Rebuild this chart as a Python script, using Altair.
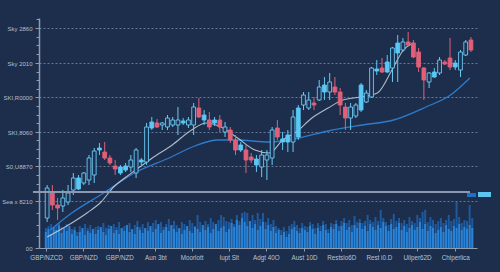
import altair as alt
import pandas as pd
import numpy as np

# ---------------- data ----------------
kinds = ["h","r","r","h","h","h","c","h","h","h",
         "c","r","r","r","c","c","h","h","c","h",
         "c","r","h","h","h","h","c","h","h","r",
         "c","r","c","r","h","r","r","c","r","r",
         "c","h","h","h","r","c","c","h","c","h",
         "h","r","h","c","h","r","r","r","h","h",
         "c","h","h","c","r","c","h","c","h","r",
         "r","r","r","h","c","h","r","r","c","h",
         "h","r"]
opens = [30,55,43,42,46,58,59,65,68,73,
         98,96,90,82,75,78,81,75,86,86,
         120,125,123,121,123,123,125,123,123,140,
         128,128,125,128,116,118,108,98,98,91,
         83,81,88,90,120,106,106,106,111,143,
         140,145,148,156,156,161,156,141,130,132,
         138,146,151,177,180,176,180,195,198,206,
         205,196,180,166,171,175,186,190,181,178,
         193,208]
closes = [60,43,40,50,55,70,70,75,90,97,
          100,90,85,79,81,82,88,98,88,121,
          126,121,125,130,128,128,127,128,141,131,
          133,121,128,121,121,108,98,103,88,88,
          89,93,93,118,111,109,113,131,140,153,
          148,143,161,163,166,156,143,130,141,143,
          163,155,180,179,176,186,200,205,206,203,
          191,181,168,175,176,188,184,181,185,196,
          206,198]
highs = [63,63,50,58,63,75,73,76,93,100,
         105,106,93,88,83,85,93,100,90,125,
         131,129,126,133,131,141,130,131,145,150,
         138,136,131,133,126,121,113,106,103,95,
         93,98,98,121,128,116,118,138,143,156,
         156,151,168,171,175,171,160,145,145,145,
         165,158,181,188,190,193,201,213,210,216,
         208,200,181,176,180,191,188,210,188,198,
         208,211]
lows = [26,38,28,36,43,53,58,63,63,65,
        93,88,83,73,73,76,76,70,83,83,
        118,120,118,118,121,113,123,120,113,130,
        123,118,122,116,111,105,93,96,75,85,
        76,71,68,83,108,98,96,96,108,138,
        138,138,147,148,148,153,133,118,118,130,
        136,145,150,173,175,175,166,166,196,202,
        190,176,148,160,170,173,183,178,178,171,
        192,196]

# moving-average style lines (candle index, level)
white_x = [0,4.7,7.6,10.3,12.7,15.1,17.7,20.1,23.9,27.6,30.4,33.2,36.4,39.7,42.5,45,47.6,50.6,53.7,56.5,59.9,63.1,65.9,68.1,70]
white_y = [11,25,35,46,61,71,81,90,103,118,125,121,110,98,95,108,116,130,140,148,151,155,178,198,205]
blue_x = [0.6,4.7,10.8,17,23.3,28.2,32.6,36,42.5,48.1,53.7,60.3,66.2,72.4,77.1,80.8]
blue_y = [18,35,55,76,90,102,108,108,106,110,117,123,128,141,153,170]

# volume (two bars per candle)
vol_front = [16,19,14,21,18,23,15,20,17,22,
             14,18,12,16,20,13,17,15,19,14,
             18,21,16,13,19,22,15,18,14,20,
             17,23,16,19,14,21,18,15,20,17,
             22,16,19,24,15,18,21,17,23,19,
             16,20,14,18,22,17,15,21,19,16,
             23,18,21,15,19,24,17,20,22,16,
             19,25,21,28,23,30,26,22,27,20,
             24,18,22,26,19,23,17,21,15,18,
             13,16,11,14,19,21,17,15,20,18,
             16,22,19,14,20,17,23,18,15,21,
             19,24,17,22,25,18,21,16,23,20,
             25,19,22,17,24,21,18,23,20,26,
             22,17,24,19,21,25,18,22,16,20,
             23,18,21,26,19,24,17,22,20,15,
             18,21,16,23,19,17,22,20,24,18,
             21,19,23,20]
vol_back = [20,22,24,19,23,25,21,18,24,20,
            19,21,16,22,18,24,20,23,17,21,
            22,19,25,20,23,18,24,21,26,19,
            22,20,25,18,23,27,21,24,19,26,
            20,25,28,22,26,21,24,29,22,27,
            23,19,26,24,20,28,25,22,33,26,
            21,27,24,30,26,22,28,33,31,27,
            26,29,24,33,27,35,36,35,26,33,
            28,35,29,35,26,30,24,28,22,20,
            18,21,17,22,24,27,23,20,25,22,
            21,26,24,20,25,22,27,24,19,25,
            24,28,22,27,30,25,28,23,32,26,
            29,25,27,33,28,26,31,27,38,30,
            26,23,29,34,27,30,25,28,24,31,
            27,25,33,30,36,38,26,31,28,24,
            27,30,25,28,33,27,29,46,31,25,
            28,27,43,30]

y_major = [0,47,82,116,151,185,220]
y_labels = ["00","Sea x 8210","S0,U8870","SKI,8060","SKI,R0000","Sky 2010","Sky 2860"]
x_ticks = [-0.2,6.9,13.8,20.7,27.6,34.7,41.8,49.1,56.2,63.4,70.7,78.0]
x_labels = ["GBP/NZCD","GBP/NZD","GBP/NZD","Aun 3bt","Moorlott","Iupt Slt",
            "Adgt 40O","Aust 10D","Restslo6D","Rest i0.D","Uilper62D","Chiperlica"]

# ---------------- tables ----------------
n = len(opens)
candles = pd.DataFrame({"i": np.arange(n), "open": opens, "close": closes,
                        "high": highs, "low": lows, "kind": kinds})
vol = pd.DataFrame({"pos": np.arange(len(vol_front)) / 2 - 0.25,
                    "front": vol_front, "back": vol_back})
white = pd.DataFrame({"x": white_x, "y": white_y})
blue = pd.DataFrame({"x": blue_x, "y": blue_y})

BG = "#1c2e4c"
minor = []
for a, b in zip(y_major[:-1], y_major[1:]):
    step = (b - a) / 4
    minor += [round(a + step * k, 2) for k in (1, 2, 3)]
minor.append(round(220 + (220 - 185) / 4, 2))
y_vals = sorted(y_major + minor)

maj_js = "[" + ",".join(str(v) for v in y_major) + "]"
lab_js = "[" + ",".join("'" + s + "'" for s in y_labels) + "]"
xt_js = "[" + ",".join(str(v) for v in x_ticks) + "]"
xl_js = "[" + ",".join("'" + s + "'" for s in x_labels) + "]"
is_major = f"indexof({maj_js}, datum.value) >= 0"
is_grid = f"indexof({maj_js}, datum.value) > 0"

xscale = alt.Scale(domain=[-0.6, 81.2], nice=False, zero=False)
yscale = alt.Scale(domain=[0, 230], nice=False, zero=False)

xaxis = alt.Axis(values=x_ticks, tickCount=200,
                 labelExpr=f"{xl_js}[indexof({xt_js}, datum.value)]",
                 title=None, grid=False, domainColor="#8d9cb2", domainWidth=1.2,
                 tickColor="#8d9cb2", tickSize=3, labelColor="#b9c4d4", labelFontSize=6.3,
                 labelFont="Liberation Sans", labelPadding=3, labelFlush=False,
                 labelOverlap=False)
yaxis = alt.Axis(values=y_vals, tickCount=200,
                 labelExpr=f"{is_major} ? {lab_js}[indexof({maj_js}, datum.value)] : ''",
                 title=None, grid=True, gridColor="#8e9bb0", gridDash=[2, 2], gridWidth=0.9,
                 gridOpacity={"condition": {"test": is_grid, "value": 0.75}, "value": 0},
                 domainColor="#8d9cb2", domainWidth=1.5, tickColor="#8d9cb2",
                 tickSize={"condition": {"test": is_major, "value": 4}, "value": 3},
                 labelColor="#b3bfd1", labelFontSize=6, labelFont="Liberation Sans",
                 labelPadding=3, labelFlush=False, labelOverlap=False)

vback = alt.Chart(vol).mark_bar(size=2, color="#1f5ea6", opacity=0.9).encode(
    x=alt.X("pos:Q", scale=xscale, axis=xaxis),
    y=alt.Y("back:Q", scale=yscale, axis=yaxis),
    y2=alt.datum(0))
vfront = alt.Chart(vol).mark_bar(size=2, color="#2a86da", opacity=0.95).encode(
    x=alt.X("pos:Q", scale=xscale), y=alt.Y("front:Q", scale=yscale), y2=alt.datum(0))

wline = alt.Chart(white).mark_line(color="#c9d3df", strokeWidth=1.1, opacity=0.85,
                                   interpolate="monotone").encode(
    x=alt.X("x:Q", scale=xscale), y=alt.Y("y:Q", scale=yscale))
bline = alt.Chart(blue).mark_line(color="#2f7fd2", strokeWidth=1.3, opacity=0.95,
                                  interpolate="monotone").encode(
    x=alt.X("x:Q", scale=xscale), y=alt.Y("y:Q", scale=yscale))

kdom = ["h", "c", "r"]
stroke_sc = alt.Scale(domain=kdom, range=["#6ccaf2", "#5ac8f5", "#e0607a"])
fill_sc = alt.Scale(domain=kdom, range=["#1d3152", "#5ac8f5", "#e0607a"])

wicks = alt.Chart(candles).mark_rule(strokeWidth=1).encode(
    x=alt.X("i:Q", scale=xscale), y=alt.Y("low:Q", scale=yscale), y2="high:Q",
    stroke=alt.Stroke("kind:N", scale=stroke_sc, legend=None))
bodies = alt.Chart(candles).mark_bar(size=3.8, strokeWidth=0.9).encode(
    x=alt.X("i:Q", scale=xscale), y=alt.Y("open:Q", scale=yscale), y2="close:Q",
    fill=alt.Fill("kind:N", scale=fill_sc, legend=None),
    stroke=alt.Stroke("kind:N", scale=stroke_sc, legend=None))

band = alt.Chart(candles).mark_rule(color="#8e9ab0", strokeWidth=1.5).encode(
    y=alt.datum(56), x=alt.value(-6), x2=alt.value(431))
leg1 = alt.Chart(candles).mark_rect(color="#1f6fc4").encode(
    x=alt.value(428), x2=alt.value(437), y=alt.value(175), y2=alt.value(179))
leg2 = alt.Chart(candles).mark_rect(color="#5cc6ee").encode(
    x=alt.value(439), x2=alt.value(452), y=alt.value(174), y2=alt.value(179))

chart = alt.layer(vback, vfront, bline, wline, wicks, bodies, band, leg1, leg2).properties(
    width=438, height=230, autosize="none",
    padding={"left": 39, "top": 18, "right": 23, "bottom": 24},
    background=BG
).configure_view(stroke=None)

chart.save("out.html", embed_options={"renderer": "svg", "actions": False})
